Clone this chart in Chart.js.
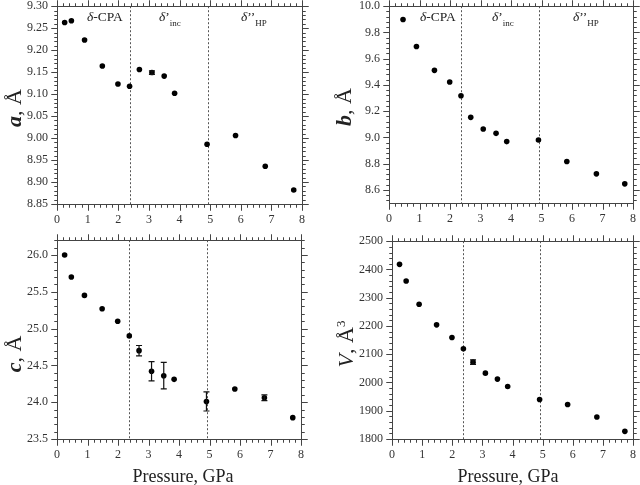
<!DOCTYPE html>
<html>
<head>
<meta charset="utf-8">
<script src="https://cdn.jsdelivr.net/npm/chart.js@4.4.0/dist/chart.umd.min.js"></script>
<style>
body { margin:0; width:640px; height:485px; overflow:hidden; background:#fff; position:relative;
       font-family:"Liberation Serif", "DejaVu Serif", serif; color:#222; }
canvas { position:absolute; }
.phase { position:absolute; white-space:nowrap; font-size:13.5px; line-height:1; }
.phase sub { font-size:9px; vertical-align:-5px; }
.ytitle { position:absolute; white-space:nowrap; font-size:22px; line-height:1;
          transform:translate(-50%,-50%) rotate(-90deg); }
.ytitle sup { font-size:13px; vertical-align:8px; }
.xtitle { position:absolute; white-space:nowrap; font-size:18px; line-height:1;
          transform:translate(-50%,-50%); }
</style>
</head>
<body>
<canvas id="chartA"></canvas>
<canvas id="chartB"></canvas>
<canvas id="chartC"></canvas>
<canvas id="chartV"></canvas>

<div class="phase" style="left:87px;top:10px"><i>δ</i>-CPA</div>
<div class="phase" style="left:159px;top:10px"><i>δ</i>’<sub>inc</sub></div>
<div class="phase" style="left:241px;top:10px"><i>δ</i>’’<sub>HP</sub></div>
<div class="phase" style="left:420px;top:10px"><i>δ</i>-CPA</div>
<div class="phase" style="left:492px;top:10px"><i>δ</i>’<sub>inc</sub></div>
<div class="phase" style="left:573px;top:10px"><i>δ</i>’’<sub>HP</sub></div>

<div class="ytitle" style="left:14px;top:108px"><b><i>a</i></b>, Å</div>
<div class="ytitle" style="left:344px;top:107px"><b><i>b</i></b>, Å</div>
<div class="ytitle" style="left:14px;top:354px"><b><i>c</i></b>, Å</div>
<div class="ytitle" style="left:345px;top:344px"><i>V</i>, Å<sup>3</sup></div>
<div class="xtitle" style="left:183px;top:476px">Pressure, GPa</div>
<div class="xtitle" style="left:508px;top:476px">Pressure, GPa</div>

<script>
// データ (Pressure, GPa)
const pressure = [0.25, 0.47, 0.90, 1.48, 1.99, 2.37, 2.69, 3.10, 3.50, 3.84, 4.90, 5.83, 6.80, 7.73];
const aValues = [9.263, 9.267, 9.223, 9.164, 9.123, 9.118, 9.156, 9.149, 9.141, 9.102, 8.986, 9.006, 8.936, 8.882];
const aErrors = [0, 0, 0, 0, 0, 0, 0, 0.004, 0, 0, 0, 0, 0, 0];
const bPressure = [0.46, 0.90, 1.49, 1.99, 2.36, 2.68, 3.09, 3.51, 3.86, 4.90, 5.83, 6.80, 7.73];
const bValues = [9.899, 9.693, 9.511, 9.422, 9.318, 9.153, 9.064, 9.031, 8.968, 8.980, 8.816, 8.722, 8.646];
const cValues = [26.00, 25.70, 25.45, 25.27, 25.10, 24.90, 24.70, 24.42, 24.36, 24.31, 24.01, 24.18, 24.06, 23.79];
const cErrors = [0, 0, 0, 0, 0, 0, 0.07, 0.13, 0.18, 0, 0.13, 0, 0.04, 0];
const vValues = [2418, 2359, 2277, 2204, 2159, 2119, 2072, 2033, 2012, 1986, 1940, 1922, 1878, 1827];
const vErrors = [0, 0, 0, 0, 0, 0, 8, 0, 0, 0, 0, 0, 0, 0];

// 相境界
const phaseBounds = [2.37, 4.92];

// 目盛り
const xTicks = [0, 1, 2, 3, 4, 5, 6, 7, 8];
const aTicks = [8.85, 8.90, 8.95, 9.00, 9.05, 9.10, 9.15, 9.20, 9.25, 9.30];
const bTicks = [8.6, 8.8, 9.0, 9.2, 9.4, 9.6, 9.8, 10.0];
const cTicks = [23.5, 24.0, 24.5, 25.0, 25.5, 26.0];
const vTicks = [1800, 1900, 2000, 2100, 2200, 2300, 2400, 2500];

const AXIS_COLOR = '#444';
const LABEL_COLOR = '#333';
const FONT = { family: '"Liberation Serif", "DejaVu Serif", serif', size: 12 };

// 副目盛りの位置 (主目盛り間を5分割)
function minorValues(min, max, majors) {
    const step = (majors[1] - majors[0]) / 5;
    const out = [];
    const k0 = Math.ceil(min / step - 1e-6), k1 = Math.floor(max / step + 1e-6);
    for (let k = k0; k <= k1; k++) out.push(k * step);
    return out;
}

// 枠・目盛り・点線・誤差棒を描くプラグイン
const framePlugin = {
    id: 'frame',
    beforeDatasetsDraw(chart) {
        const { ctx, chartArea: ca, scales: { x } } = chart;
        ctx.save();
        ctx.strokeStyle = '#555';
        ctx.lineWidth = 1;
        ctx.setLineDash([2, 2]);
        phaseBounds.forEach(p => {
            const px = Math.round(x.getPixelForValue(p)) + 0.5;
            ctx.beginPath();
            ctx.moveTo(px, ca.top);
            ctx.lineTo(px, ca.bottom);
            ctx.stroke();
        });
        ctx.restore();
    },
    afterDatasetsDraw(chart) {
        const { ctx, scales: { x, y } } = chart;
        ctx.save();
        ctx.strokeStyle = '#111';
        ctx.lineWidth = 1.2;
        chart.data.datasets.forEach(ds => {
            if (!ds.errors) return;
            ds.data.forEach((pt, i) => {
                const e = ds.errors[i];
                if (!e) return;
                const px = x.getPixelForValue(pt.x);
                const y1 = y.getPixelForValue(pt.y + e);
                const y2 = y.getPixelForValue(pt.y - e);
                ctx.beginPath();
                ctx.moveTo(px, y1); ctx.lineTo(px, y2);
                ctx.moveTo(px - 3, y1); ctx.lineTo(px + 3, y1);
                ctx.moveTo(px - 3, y2); ctx.lineTo(px + 3, y2);
                ctx.stroke();
            });
        });
        ctx.restore();
    },
    afterDraw(chart) {
        const { ctx, chartArea: ca, scales: { x, y } } = chart;
        const majors = chart.data.datasets[0].majors;
        const L = Math.round(ca.left) + 0.5, R = Math.round(ca.right) + 0.5;
        const T = Math.round(ca.top) + 0.5, B = Math.round(ca.bottom) + 0.5;
        ctx.save();
        ctx.setLineDash([]);
        ctx.strokeStyle = AXIS_COLOR;
        ctx.lineWidth = 1;
        ctx.strokeRect(L, T, R - L, B - T);
        // 四辺とも外向きの目盛り
        const addX = (v, len) => {
            const px = Math.round(x.getPixelForValue(v)) + 0.5;
            ctx.strokeRect(px, B, 0, len);
            ctx.strokeRect(px, T - len, 0, len);
        };
        const addY = (v, len) => {
            const py = Math.round(y.getPixelForValue(v)) + 0.5;
            ctx.strokeRect(L - len, py, len, 0);
            ctx.strokeRect(R, py, len, 0);
        };
        minorValues(x.min, x.max, majors.x).forEach(v => addX(v, 3));
        minorValues(y.min, y.max, majors.y).forEach(v => addY(v, 3));
        majors.x.forEach(v => addX(v, 6));
        majors.y.forEach(v => addY(v, 6));
        ctx.restore();
    }
};

// パネル作成
function makePanel(id, rect, xs, ys, errs, yTicks, yMin, yMax, decimals) {
    const canvas = document.getElementById(id);
    const padL = 62, padT = 16, padR = 22, padB = 42;
    canvas.width = (rect.r - rect.l) + padL + padR;
    canvas.height = (rect.b - rect.t) + padT + padB;
    canvas.style.left = (rect.l - padL) + 'px';
    canvas.style.top = (rect.t - padT) + 'px';

    return new Chart(canvas, {
        type: 'scatter',
        data: {
            datasets: [{
                data: xs.map((v, i) => ({ x: v, y: ys[i] })),
                errors: errs,
                majors: { x: xTicks, y: yTicks },
                backgroundColor: '#000',
                borderColor: '#000',
                pointRadius: 2.8,
                pointHoverRadius: 2.8,
                borderWidth: 0
            }]
        },
        options: {
            responsive: false,
            animation: false,
            events: [],
            layout: { padding: { left: 0, top: padT, right: padR, bottom: 0 } },
            plugins: { legend: { display: false }, tooltip: { enabled: false } },
            scales: {
                x: {
                    type: 'linear', min: 0, max: 8,
                    afterFit: s => { s.height = padB; },
                    afterBuildTicks: s => { s.ticks = xTicks.map(v => ({ value: v })); },
                    grid: { display: false, drawTicks: false },
                    border: { display: false },
                    ticks: { padding: 9, font: FONT, color: LABEL_COLOR, autoSkip: false, maxRotation: 0,
                             callback: v => String(v) }
                },
                y: {
                    type: 'linear', min: yMin, max: yMax,
                    afterFit: s => { s.width = padL; },
                    afterBuildTicks: s => { s.ticks = yTicks.map(v => ({ value: v })); },
                    grid: { display: false, drawTicks: false },
                    border: { display: false },
                    ticks: { padding: 9, font: FONT, color: LABEL_COLOR, autoSkip: false,
                             callback: v => Number(v).toFixed(decimals) }
                }
            }
        },
        plugins: [framePlugin]
    });
}

function initializeApp() {
    makePanel('chartA', { l: 57, t: 6, r: 302, b: 204 }, pressure, aValues, aErrors, aTicks, 8.85, 9.30, 2);
    makePanel('chartB', { l: 389, t: 6, r: 633, b: 203 }, bPressure, bValues, null, bTicks, 8.5, 10.0, 1);
    makePanel('chartC', { l: 57, t: 240, r: 301, b: 439 }, pressure, cValues, cErrors, cTicks, 23.5, 26.2, 1);
    makePanel('chartV', { l: 392, t: 241, r: 633, b: 439 }, pressure, vValues, vErrors, vTicks, 1800, 2500, 0);
}

document.addEventListener('DOMContentLoaded', initializeApp);
</script>
</body>
</html>
